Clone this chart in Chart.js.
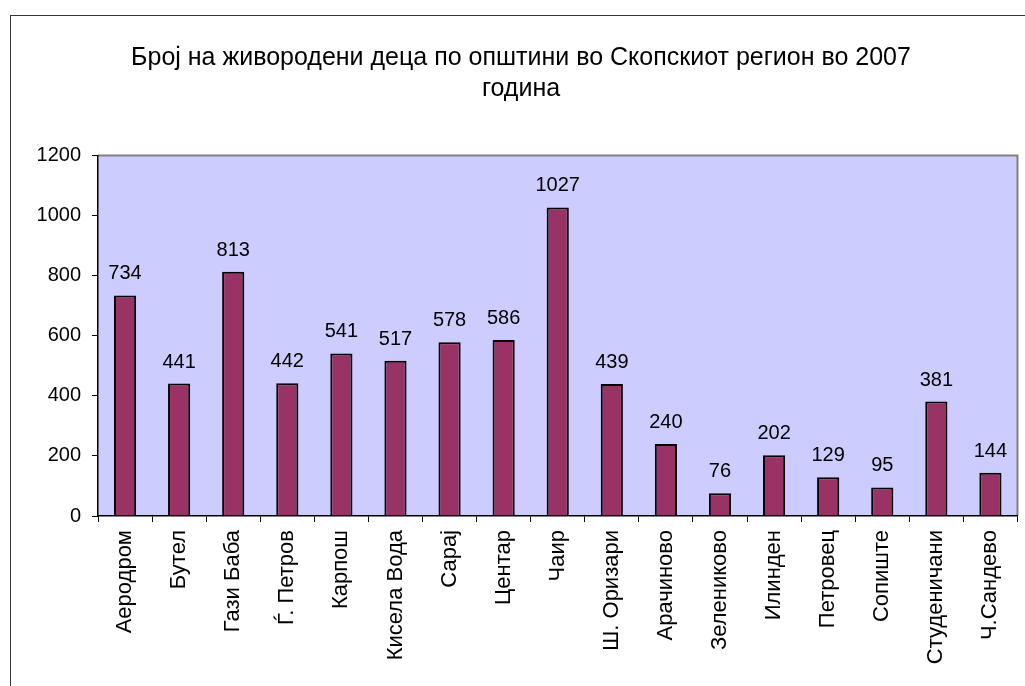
<!DOCTYPE html>
<html>
<head>
<meta charset="utf-8">
<script src="https://cdn.jsdelivr.net/npm/chart.js@4.4.0/dist/chart.umd.min.js"></script>
<style>
  html, body { margin: 0; padding: 0; background: #fff; overflow: hidden; }
  #frame { position: absolute; left: 10px; top: 15px; width: 1030px; height: 700px; border: 1px solid #333; box-sizing: border-box; }
  #wrap { position: absolute; left: 0; top: 0; width: 1025px; height: 686px; }
</style>
</head>
<body>
<div id="frame"></div>
<div id="wrap"><canvas id="birthsChart" width="1025" height="686"></canvas></div>
<script>
// Data
const municipalities = ["Аеродром", "Бутел", "Гази Баба", "Ѓ. Петров", "Карпош", "Кисела Вода", "Сарај", "Центар", "Чаир", "Ш. Оризари", "Арачиново", "Зелениково", "Илинден", "Петровец", "Сопиште", "Студеничани", "Ч.Сандево"];
const births = [734, 441, 813, 442, 541, 517, 578, 586, 1027, 439, 240, 76, 202, 129, 95, 381, 144];
const titleLines = ["Број на живородени деца по општини во Скопскиот регион во 2007", "година"];

const FONT = "'Liberation Sans', Arial, Helvetica, sans-serif";

// lavender plot background with grey border
const plotBackground = {
  id: 'plotBackground',
  beforeDraw(chart) {
    const { ctx, chartArea: a } = chart;
    ctx.save();
    ctx.fillStyle = '#CCCCFF';
    ctx.fillRect(a.left, a.top, a.right - a.left, a.bottom - a.top);
    ctx.strokeStyle = '#808080';
    ctx.lineWidth = 2;
    ctx.beginPath();
    ctx.moveTo(a.left, a.top);
    ctx.lineTo(a.right, a.top);
    ctx.lineTo(a.right, a.bottom);
    ctx.stroke();
    ctx.restore();
  }
};

// value labels above each bar
const valueLabels = {
  id: 'valueLabels',
  afterDatasetsDraw(chart) {
    const { ctx } = chart;
    const meta = chart.getDatasetMeta(0);
    ctx.save();
    ctx.font = '20px ' + FONT;
    ctx.fillStyle = '#000';
    ctx.textAlign = 'center';
    ctx.textBaseline = 'alphabetic';
    meta.data.forEach(function(bar, i) {
      ctx.fillText(String(births[i]), bar.x, bar.y - 16);
    });
    ctx.restore();
  }
};

new Chart(document.getElementById('birthsChart').getContext('2d'), {
  type: 'bar',
  data: {
    labels: municipalities,
    datasets: [{
      data: births,
      backgroundColor: '#993366',
      borderColor: '#000',
      borderWidth: 2,
      barPercentage: 0.41,
      categoryPercentage: 1.0
    }]
  },
  options: {
    responsive: false,
    animation: false,
    layout: { padding: { left: 23, right: 6, top: 0, bottom: 0 } },
    plugins: {
      legend: { display: false },
      tooltip: { enabled: false },
      title: {
        display: true,
        text: titleLines,
        color: '#000',
        font: { family: FONT, size: 25, weight: 'normal', lineHeight: 1.25 },
        padding: { top: 42, bottom: 51 }
      }
    },
    scales: {
      x: {
        grid: { display: true, drawOnChartArea: false, offset: true, tickLength: 6, color: '#000' },
        border: { color: '#000', width: 1.5 },
        ticks: { color: '#000', font: { family: FONT, size: 22 }, maxRotation: 90, minRotation: 90, padding: 8, autoSkip: false },
        afterFit(scale) { scale.height = 170; }
      },
      y: {
        min: 0,
        max: 1200,
        grid: { display: true, drawOnChartArea: false, tickLength: 6, color: '#000' },
        border: { color: '#000', width: 1.5 },
        ticks: { stepSize: 200, color: '#000', font: { family: FONT, size: 20 }, padding: 11,
                 callback: function(v) { return String(v); } },
        afterFit(scale) { scale.width = 75; }
      }
    }
  },
  plugins: [plotBackground, valueLabels]
});
</script>
</body>
</html>
